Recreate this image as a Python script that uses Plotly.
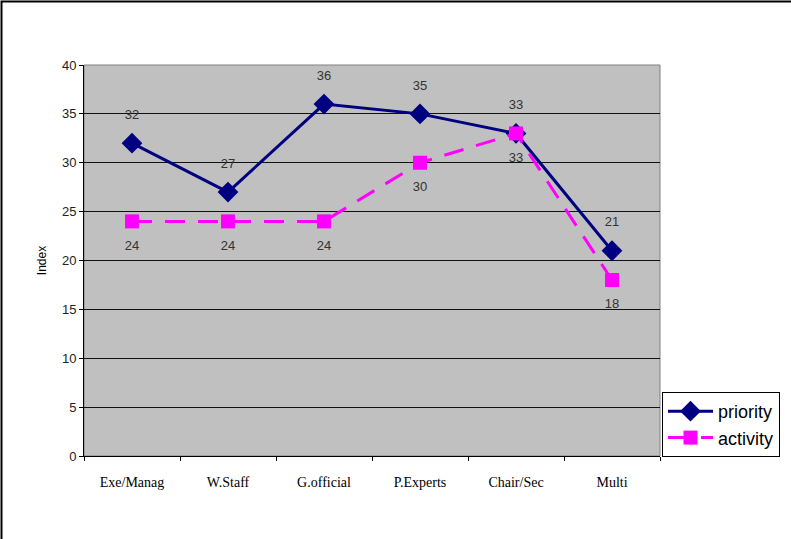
import plotly.graph_objects as go

categories = ["Exe/Manag", "W.Staff", "G.official", "P.Experts", "Chair/Sec", "Multi"]
priority = [32, 27, 36, 35, 33, 21]
activity = [24, 24, 24, 30, 33, 18]

W, H = 791, 539
L, R, T, B = 84, 131, 65, 83
pw, ph = W - L - R, H - T - B

def px_x(px):
    return (px - L) / pw

def px_y(py):
    return (H - B - py) / ph

label_font = dict(family="Liberation Sans, Arial", size=13, color="#333333")

fig = go.Figure()
fig.add_trace(go.Scatter(
    x=categories, y=priority, name="priority",
    mode="lines+markers",
    line=dict(color="#000080", width=3),
    marker=dict(symbol="diamond", size=16, color="#000080"),
    cliponaxis=False,
))
fig.add_trace(go.Scatter(
    x=categories, y=activity, name="activity",
    mode="lines+markers",
    line=dict(color="#FF00FF", width=3, dash="20px,13px"),
    marker=dict(symbol="square", size=14, color="#FF00FF"),
    cliponaxis=False,
))
# data labels (transparent markers used only to space the labels)
fig.add_trace(go.Scatter(
    x=categories, y=priority, mode="markers+text", showlegend=False,
    marker=dict(size=32, color="rgba(0,0,0,0)"),
    text=[str(v) for v in priority], textposition="top center",
    textfont=label_font, cliponaxis=False, hoverinfo="skip",
))
fig.add_trace(go.Scatter(
    x=categories, y=activity, mode="markers+text", showlegend=False,
    marker=dict(size=28, color="rgba(0,0,0,0)"),
    text=[str(v) for v in activity], textposition="bottom center",
    textfont=label_font, cliponaxis=False, hoverinfo="skip",
))

fig.update_layout(
    width=W, height=H,
    margin=dict(l=L, r=R, t=T, b=B, autoexpand=False),
    paper_bgcolor="white",
    plot_bgcolor="#C0C0C0",
    showlegend=True,
    legend=dict(
        x=px_x(662), y=px_y(392), xanchor="left", yanchor="top",
        bgcolor="white", bordercolor="black", borderwidth=1,
        font=dict(family="Liberation Sans, Arial", size=18, color="black"),
        tracegroupgap=0, itemwidth=45,
    ),
    xaxis=dict(
        type="category", range=[-0.5, 5.5],
        showgrid=False, showline=True, linecolor="black", linewidth=1,
        ticks="outside", tickson="boundaries", ticklen=4, tickcolor="black",
        tickfont=dict(family="Liberation Serif, Times New Roman", size=14, color="black"),
        ticklabelstandoff=13,
    ),
    yaxis=dict(
        range=[0, 40], dtick=5, tick0=0,
        showgrid=True, gridcolor="#111111", gridwidth=1.3,
        showline=True, linecolor="black", linewidth=1,
        ticks="outside", ticklen=4, tickcolor="black",
        tickfont=dict(family="Liberation Sans, Arial", size=13, color="#222222"),
        zeroline=False,
        title=dict(text="Index", font=dict(family="Liberation Sans, Arial", size=12, color="black"), standoff=12),
    ),
    shapes=[
        dict(type="rect", xref="paper", yref="paper",
             x0=px_x(1.5), x1=px_x(W + 10), y0=px_y(H + 10), y1=px_y(1.5),
             line=dict(color="black", width=2), fillcolor="rgba(0,0,0,0)", layer="below"),
        dict(type="rect", xref="paper", yref="paper", x0=0, x1=1, y0=0, y1=1,
             line=dict(color="#808080", width=1), fillcolor="rgba(0,0,0,0)", layer="below"),
    ],
)

fig.write_html("out.html", config={"displayModeBar": False},
               post_script="document.body.style.margin='0';")
